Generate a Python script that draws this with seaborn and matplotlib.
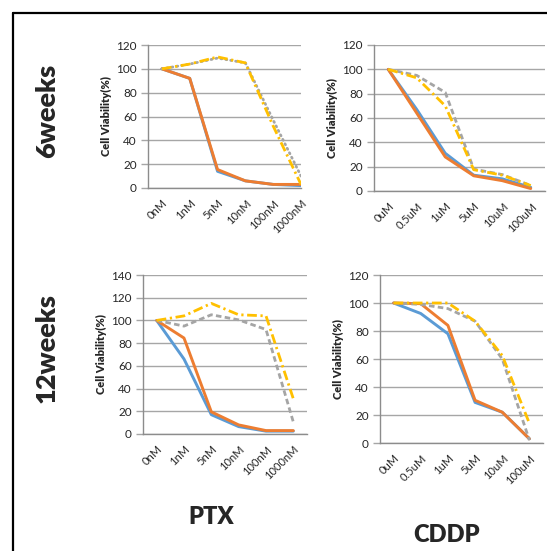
import numpy as np
import pandas as pd
import matplotlib
matplotlib.use('Agg')
import matplotlib.pyplot as plt
import seaborn as sns
from matplotlib.lines import Line2D

# dose labels
conc_ptx = ['0nM', '1nM', '5nM', '10nM', '100nM', '1000nM']
conc_cddp = ['0uM', '0.5uM', '1uM', '5uM', '10uM', '100uM']

# 6 weeks, PTX
w6_ptx_blue = [100, 92, 14, 6, 3, 2]
w6_ptx_orange = [100, 92, 15.5, 6, 3, 3]
w6_ptx_grey = [100, 104, 109, 105, 57, 10]
w6_ptx_yellow = [100, 104, 110, 105, 52, 3]

# 6 weeks, CDDP
w6_cddp_blue = [100, 67, 31, 13, 10, 3]
w6_cddp_orange = [100, 64, 28, 12.5, 8.5, 2]
w6_cddp_grey = [100, 95, 81, 18, 13.5, 4.5]
w6_cddp_yellow = [100, 93, 70, 17.5, 13, 4.5]

# 12 weeks, PTX
w12_ptx_blue = [100, 66, 17, 6.5, 2.5, 2.5]
w12_ptx_orange = [100, 84.5, 19.5, 8, 3, 3]
w12_ptx_grey = [100, 95, 105, 100.5, 92, 10.5]
w12_ptx_yellow = [100, 104, 115, 105, 104, 31]

# 12 weeks, CDDP
w12_cddp_blue = [100, 92.5, 78, 29, 22, 3]
w12_cddp_orange = [100, 99.5, 84, 30.5, 22, 3]
w12_cddp_grey = [100, 99, 96, 87, 60, 2]
w12_cddp_yellow = [100, 100, 100, 87, 62.5, 14]

sns.set_theme(style='white')
plt.rcParams['font.family'] = ['Lato', 'DejaVu Sans']

W, H = 547, 551
fig = plt.figure(figsize=(W / 100, H / 100), dpi=100)


def px_axes(left, top, right, bottom):
    return fig.add_axes([left / W, 1 - bottom / H, (right - left) / W, (bottom - top) / H])


BLUE, ORANGE, GREY, YELLOW = '#5B9BD5', '#ED7D31', '#A5A5A5', '#FFC000'
grid_c = '#a6a6a6'
axis_c = '#8c8c8c'


def panel(ax, labels, blue, orange, grey, yellow, ymax, xmax, grey_dotted=False):
    x = np.arange(len(labels))
    df = pd.DataFrame({'dose': x, 'blue': blue, 'orange': orange, 'grey': grey, 'yellow': yellow})
    sns.lineplot(data=df, x='dose', y='blue', ax=ax, color=BLUE, lw=2.1)
    sns.lineplot(data=df, x='dose', y='orange', ax=ax, color=ORANGE, lw=2.1)
    grey_ls = (0, (0.4, 1.4)) if grey_dotted else (0, (2.0, 1.2))
    sns.lineplot(data=df, x='dose', y='grey', ax=ax, color=GREY, lw=2.0, linestyle=grey_ls,
                 dash_capstyle='round' if grey_dotted else 'butt')
    sns.lineplot(data=df, x='dose', y='yellow', ax=ax, color=YELLOW, lw=2.0,
                 linestyle=(0, (3.5, 1.3, 0.8, 1.3)))
    ax.set_xlim(-0.5, xmax)
    ax.set_ylim(0, ymax)
    ax.set_yticks(np.arange(0, ymax + 1, 20))
    ax.yaxis.grid(True, color=grid_c, lw=1.0)
    ax.set_axisbelow(True)
    for s in ['top', 'right']:
        ax.spines[s].set_visible(False)
    for s in ['left', 'bottom']:
        ax.spines[s].set_color(axis_c)
        ax.spines[s].set_linewidth(1.0)
    ax.set_xticks(x)
    ax.set_xticklabels(labels, rotation=45, ha='right', rotation_mode='anchor')
    ax.set_xticks(np.arange(-0.5, xmax + 0.01, 1), minor=True)
    ax.tick_params(axis='x', which='major', length=0, pad=7, labelsize=8, colors='#262626')
    ax.tick_params(axis='x', which='minor', length=4, width=1.0, color=axis_c, direction='out')
    ax.tick_params(axis='y', which='major', length=5, width=1.0, color=grid_c, direction='out',
                   labelsize=8.5, colors='#262626', pad=3, left=True)
    ax.set_xlabel('')
    ax.set_ylabel('Cell Viability(%)', fontsize=8, fontweight='heavy', labelpad=3)


ax1 = px_axes(148, 45, 301, 188)
panel(ax1, conc_ptx, w6_ptx_blue, w6_ptx_orange, w6_ptx_grey, w6_ptx_yellow, 120, 5.0, grey_dotted=True)
ax2 = px_axes(374, 45, 545, 191)
panel(ax2, conc_cddp, w6_cddp_blue, w6_cddp_orange, w6_cddp_grey, w6_cddp_yellow, 120, 5.5)
ax3 = px_axes(143, 275, 307, 434)
panel(ax3, conc_ptx, w12_ptx_blue, w12_ptx_orange, w12_ptx_grey, w12_ptx_yellow, 140, 5.5)
ax4 = px_axes(380, 275, 543, 443)
panel(ax4, conc_cddp, w12_cddp_blue, w12_cddp_orange, w12_cddp_grey, w12_cddp_yellow, 120, 5.5)

# row and column labels
fig.text(47.5 / W, 1 - 111 / H, '6weeks', rotation=90, ha='center', va='center',
         fontsize=19.5, fontweight='heavy')
fig.text(47 / W, 1 - 348 / H, '12weeks', rotation=90, ha='center', va='center',
         fontsize=19.5, fontweight='heavy')
fig.text(211.5 / W, 1 - 517 / H, 'PTX', ha='center', va='center', fontsize=17, fontweight='heavy')
fig.text(447 / W, 1 - 535 / H, 'CDDP', ha='center', va='center', fontsize=17, fontweight='heavy')

# frame around the figure panel
fig.add_artist(Line2D([13 / W, 1], [1 - 12.5 / H, 1 - 12.5 / H], color='black', lw=1.6))
fig.add_artist(Line2D([13 / W, 13 / W], [1 - 12.5 / H, 0], color='black', lw=1.6))

fig.savefig('out.png', dpi=100)
